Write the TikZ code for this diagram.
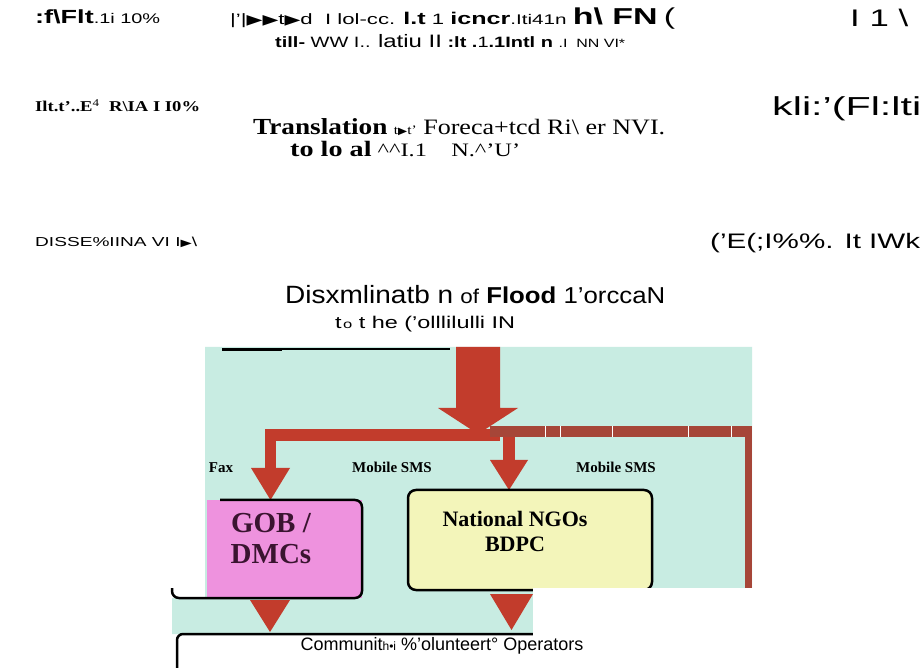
\documentclass[tikz,border=0pt]{standalone}
\usepackage{fontspec}
\setmainfont{Liberation Serif}
\setsansfont{Liberation Sans}
\newfontfamily\symfont{DejaVu Sans}
\definecolor{mint}{RGB}{200,236,226}
\definecolor{arrowred}{RGB}{194,60,44}
\definecolor{bandbrown}{RGB}{166,70,56}
\definecolor{gobpink}{RGB}{238,146,222}
\definecolor{ngoyellow}{RGB}{243,245,186}
\definecolor{gobtext}{RGB}{58,20,48}
\newcommand{\fs}[1]{\fontsize{#1}{#1}\selectfont}
\newcommand{\tri}[1]{{\symfont\fs{#1}▶}}
% stretch a line of text to a given width, keeping its height
\newcommand{\wide}[2]{\resizebox{#1}{\height}{#2}}
\begin{document}
\begin{tikzpicture}[x=1pt,y=-1pt,
  txt/.style={inner sep=0pt, anchor=base west},
  chan/.style={inner sep=0pt, font=\rmfamily\bfseries\fs{15}},
  boxtext/.style={inner sep=0pt, align=center, font=\rmfamily\bfseries}]
\useasboundingbox (0,0) rectangle (922,668);
\fill[white] (0,0) rectangle (922,668);

% ---- heading lines ----
\node[txt, font=\sffamily] (h1a) at (35,24)
  {\wide{125pt}{{\bfseries\fs{19}:f\textbackslash Flt}{\fs{14}.1i 10\%}}};
\node[txt, font=\sffamily\fs{15}] (h1b) at (230,25)
  {\wide{445pt}{|'|\tri{14}\tri{14}t\tri{14}d\ \ I lol-cc. {\bfseries\fs{17}l.t} 1 {\bfseries\fs{17}icncr}{\fs{14}.Iti41n} {\bfseries\fs{23}h\textbackslash\ FN} {\fs{23}(}}};
\node[txt, font=\sffamily\fs{24}] (h1c) at (850,27) {\wide{58pt}{I 1 \textbackslash}};
\node[txt, font=\sffamily\fs{15}] (h2) at (275,48)
  {\wide{350pt}{{\bfseries till-} WW I.. {\fs{18}latiu II} {\bfseries :lt .}1{\bfseries .1Intl n} {\fs{12}.I\ \ NN VI*}}};

\node[txt, font=\rmfamily\bfseries\fs{15}] (h3a) at (35,112)
  {\wide{165pt}{Ilt.t'..E\textsuperscript{\mdseries 4}\ \ R\textbackslash IA I I0\%}};
\node[txt, font=\sffamily\fs{26}] (h3b) at (772,116) {\wide{149pt}{kli:'(Fl:lti}};

\node[txt, font=\rmfamily\fs{22}] (tr1) at (253,135)
  {\wide{412pt}{{\bfseries\fs{23}Translation} {\fs{13}t\tri{10}t'} Foreca+tcd Ri\textbackslash\ er NVI.}};
\node[txt, font=\rmfamily\fs{19}] (tr2) at (290,157)
  {\wide{230pt}{{\bfseries\fs{22}to lo al} \textasciicircum\textasciicircum I.1\ \ \ \ N.\textasciicircum'U'}};

\node[txt, font=\sffamily\fs{13}] (ds1) at (35,247) {\wide{162pt}{DISSE\%IINA VI I\tri{10}\textbackslash}};
\node[txt, font=\sffamily\fs{21}] (ds2) at (710,249) {\wide{210pt}{('E(;I\%\%. It IWk}};

\node[txt, font=\sffamily\fs{23}] (dt1) at (285,304)
  {\wide{380pt}{{\fs{25}Disxmlinatb n} {\fs{20}of} {\bfseries Flood} 1'orccaN}};
\node[txt, font=\sffamily\fs{17}] (dt2) at (335,329)
  {\wide{180pt}{t\kern1pt{\fs{12}o} t he ('olllilulli IN}};

% ---- mint panel ----
\fill[mint] (205,347) -- (752,347) -- (752,588) -- (533,588) -- (533,634)
  -- (172,634) -- (172,598) -- (205,598) -- cycle;
\draw[line width=2pt] (222,349) -- (450,349);
\draw[line width=3pt] (222,349.5) -- (282,349.5);

% main downward arrow and the channels it splits into
\coordinate (src) at (478,347);
\fill[arrowred] (456,347) -- (500,347) -- (500,408) -- (518,408) -- (478,434)
  -- (438,408) -- (456,408) -- cycle;
\fill[arrowred] (265,429) rectangle (500,441);
\fill[bandbrown] (490,426) rectangle (752,437);
\foreach \gx in {545,559.5,612,688,731}
  \fill[white] (\gx,426) rectangle ++(1,11);
\fill[bandbrown] (745,426) rectangle (752,588);
% branch to GOB
\fill[arrowred] (265,429) rectangle (276,470);
\fill[arrowred] (251,468) -- (290,468) -- (270.5,500) -- cycle;
% branch to NGOs
\fill[arrowred] (503,437) rectangle (515,462);
\fill[arrowred] (490,460) -- (528,460) -- (509,490) -- cycle;

\node[chan] (fax) at (221,468) {Fax};
\node[chan] (sms1) at (392,467) {Mobile SMS};
\node[chan] (sms2) at (616,467) {Mobile SMS};

% ---- receiving bodies ----
\fill[gobpink] (207,500) rectangle (362,598);
\draw[line width=2.5pt, rounded corners=7pt] (220,500) -- (362,500) -- (362,598)
  -- (172,598) -- (172,588);
\node[boxtext, text=gobtext, font=\rmfamily\bfseries\fs{29}] (gob) at (271,539) {GOB /\\[2pt]DMCs};

\node[draw, line width=2.5pt, rounded corners=8pt, fill=ngoyellow,
  minimum width=244pt, minimum height=100pt, inner sep=0pt] (ngo) at (530,540) {};
\node[boxtext, font=\rmfamily\bfseries\fs{22}] (ngot) at (515,531) {National NGOs\\[3pt]BDPC};

% arrows down to the community level
\fill[arrowred] (250,600) -- (290,600) -- (270,632) -- cycle;
\fill[arrowred] (490,594) -- (533,594) -- (511.5,630) -- cycle;

% community box
\draw[line width=2.5pt, rounded corners=6pt] (533,634) -- (177,634) -- (177,668);

\fill[white] (533,588) rectangle (922,668);
\node[inner sep=0pt, font=\sffamily\fs{18}] (comm) at (442,646)
  {Communit{\fs{12}h•i} \%'olunteert° Operators};
\end{tikzpicture}
\end{document}
